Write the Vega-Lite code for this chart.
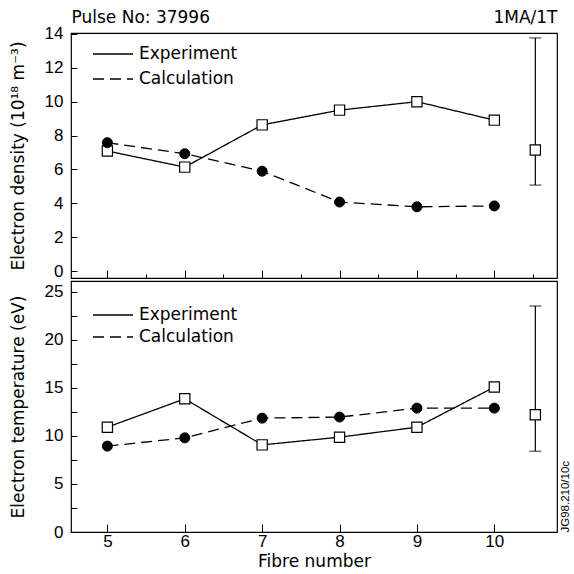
{
  "$schema": "https://vega.github.io/schema/vega-lite/v6.json",
  "padding": {"left": 8, "top": 7, "right": 2, "bottom": 2},
  "background": "white",
  "spacing": 0,
  "resolve": {
    "scale": {"x": "independent", "y": "independent", "strokeDash": "independent"},
    "axis": {"x": "independent", "y": "independent"},
    "legend": {"strokeDash": "independent"}
  },
  "config": {
    "font": "DejaVu Sans",
    "view": {"stroke": "black", "strokeWidth": 1.2},
    "axis": {
      "labelFont": "Liberation Sans", "labelFontSize": 17, "labelColor": "black",
      "titleFont": "DejaVu Sans", "titleFontSize": 17, "titleFontWeight": "normal", "titleColor": "black",
      "domainColor": "black", "tickColor": "black", "tickWidth": 1, "grid": false
    },
    "legend": {
      "labelFont": "DejaVu Sans", "labelFontSize": 17, "labelColor": "black"
    }
  },
  "datasets": {
    "density": [
      {"fibre": 5, "value": 7.09, "series": "Experiment"},
      {"fibre": 6, "value": 6.14, "series": "Experiment"},
      {"fibre": 7, "value": 8.63, "series": "Experiment"},
      {"fibre": 8, "value": 9.5, "series": "Experiment"},
      {"fibre": 9, "value": 10.0, "series": "Experiment"},
      {"fibre": 10, "value": 8.91, "series": "Experiment"},
      {"fibre": 5, "value": 7.58, "series": "Calculation"},
      {"fibre": 6, "value": 6.93, "series": "Calculation"},
      {"fibre": 7, "value": 5.9, "series": "Calculation"},
      {"fibre": 8, "value": 4.08, "series": "Calculation"},
      {"fibre": 9, "value": 3.8, "series": "Calculation"},
      {"fibre": 10, "value": 3.85, "series": "Calculation"}
    ],
    "temperature": [
      {"fibre": 5, "value": 10.9, "series": "Experiment"},
      {"fibre": 6, "value": 13.85, "series": "Experiment"},
      {"fibre": 7, "value": 9.06, "series": "Experiment"},
      {"fibre": 8, "value": 9.86, "series": "Experiment"},
      {"fibre": 9, "value": 10.9, "series": "Experiment"},
      {"fibre": 10, "value": 15.07, "series": "Experiment"},
      {"fibre": 5, "value": 8.93, "series": "Calculation"},
      {"fibre": 6, "value": 9.79, "series": "Calculation"},
      {"fibre": 7, "value": 11.84, "series": "Calculation"},
      {"fibre": 8, "value": 11.95, "series": "Calculation"},
      {"fibre": 9, "value": 12.88, "series": "Calculation"},
      {"fibre": 10, "value": 12.88, "series": "Calculation"}
    ],
    "density_err": [
      {"fibre": 10.53, "value": 7.15, "lo": 5.08, "hi": 13.76}
    ],
    "temperature_err": [
      {"fibre": 10.53, "value": 12.2, "lo": 8.4, "hi": 23.5}
    ]
  },
  "vconcat": [
    {
      "width": 486,
      "height": 245,
      "resolve": {"axis": {"x": "independent", "y": "independent"}},
      "layer": [
        {
          "data": {"name": "density"},
          "mark": {"type": "line", "color": "black", "strokeWidth": 1.3},
          "encoding": {
            "x": {
              "field": "fibre", "type": "quantitative",
              "scale": {"domain": [4.53, 10.81], "nice": false, "zero": false},
              "axis": {
                "orient": "bottom", "title": null, "labels": false, "domain": false,
                "values": [5, 5.5, 6, 6.5, 7, 7.5, 8, 8.5, 9, 9.5, 10, 10.5],
                "tickSize": {"condition": {"test": "datum.value % 1 !== 0", "value": -4}, "value": -8}
              }
            },
            "y": {
              "field": "value", "type": "quantitative",
              "scale": {"domain": [-0.4, 14.05], "nice": false, "zero": false},
              "axis": {
                "orient": "left",
                "title": "Electron density (10¹⁸ m⁻³)",
                "values": [0, 2, 4, 6, 8, 10, 12, 14],
                "tickSize": -6, "labelPadding": 14, "titlePadding": 17, "domain": false
              }
            },
            "strokeDash": {
              "field": "series", "type": "nominal",
              "scale": {"domain": ["Experiment", "Calculation"], "range": [[1, 0], [11, 6]]},
              "legend": {
                "title": null, "orient": "none", "legendX": 31, "legendY": 10,
                "padding": 0, "symbolSize": 400, "symbolType": "M-2,0H2", "labelOffset": 15, "rowPadding": 6,
                "symbolStrokeWidth": 1.3, "symbolStrokeColor": "black"
              }
            }
          }
        },
        {
          "data": {"name": "density"},
          "transform": [{"filter": "datum.series === 'Experiment'"}],
          "mark": {"type": "point", "shape": "square", "filled": true, "fill": "white", "stroke": "black", "strokeWidth": 1.2, "size": 105, "opacity": 1},
          "encoding": {
            "x": {"field": "fibre", "type": "quantitative", "axis": null},
            "y": {"field": "value", "type": "quantitative", "axis": null}
          }
        },
        {
          "data": {"name": "density"},
          "transform": [{"filter": "datum.series === 'Calculation'"}],
          "mark": {"type": "point", "shape": "circle", "filled": true, "fill": "black", "stroke": "black", "strokeWidth": 1, "size": 100, "opacity": 1},
          "encoding": {
            "x": {"field": "fibre", "type": "quantitative", "axis": null},
            "y": {"field": "value", "type": "quantitative", "axis": null}
          }
        },
        {
          "data": {"name": "density_err"},
          "mark": {"type": "errorbar", "ticks": {"size": 12, "color": "black", "thickness": 1.2}, "rule": {"color": "black", "strokeWidth": 1.2}},
          "encoding": {
            "x": {"field": "fibre", "type": "quantitative", "axis": null},
            "y": {"field": "lo", "type": "quantitative", "axis": null},
            "y2": {"field": "hi"}
          }
        },
        {
          "data": {"name": "density_err"},
          "mark": {"type": "point", "shape": "square", "filled": true, "fill": "white", "stroke": "black", "strokeWidth": 1.2, "size": 105, "opacity": 1},
          "encoding": {
            "x": {
              "field": "fibre", "type": "quantitative",
              "axis": {
                "orient": "top", "title": null, "ticks": false, "domain": false,
                "values": [4.53, 10.81],
                "labelExpr": "datum.value < 6 ? 'Pulse No: 37996' : '1MA/1T'",
                "labelAlign": {"condition": {"test": "datum.value < 6", "value": "left"}, "value": "right"},
                "labelFont": "DejaVu Sans", "labelFontSize": 17, "labelPadding": 7, "labelOverlap": false
              }
            },
            "y": {"field": "value", "type": "quantitative", "axis": null}
          }
        }
      ]
    },
    {
      "width": 486,
      "height": 251,
      "resolve": {"axis": {"x": "independent", "y": "independent"}},
      "layer": [
        {
          "data": {"name": "temperature"},
          "mark": {"type": "line", "color": "black", "strokeWidth": 1.3},
          "encoding": {
            "x": {
              "field": "fibre", "type": "quantitative",
              "scale": {"domain": [4.53, 10.81], "nice": false, "zero": false},
              "axis": {
                "orient": "bottom", "title": "Fibre number", "domain": false, "format": "d",
                "values": [5, 5.5, 6, 6.5, 7, 7.5, 8, 8.5, 9, 9.5, 10, 10.5],
                "labelExpr": "datum.value % 1 === 0 ? datum.label : ''",
                "tickSize": {"condition": {"test": "datum.value % 1 !== 0", "value": -4}, "value": -8},
                "labelPadding": {"condition": {"test": "datum.value % 1 !== 0", "value": 5}, "value": 9},
                "titlePadding": 4
              }
            },
            "y": {
              "field": "value", "type": "quantitative",
              "scale": {"domain": [0, 26.1], "nice": false, "zero": false},
              "axis": {
                "orient": "left",
                "title": "Electron temperature (eV)",
                "values": [0, 2.5, 5, 7.5, 10, 12.5, 15, 17.5, 20, 22.5, 25],
                "labelExpr": "datum.value % 5 === 0 ? datum.label : ''",
                "tickSize": -6, "labelPadding": 14, "titlePadding": 17, "domain": false
              }
            },
            "strokeDash": {
              "field": "series", "type": "nominal",
              "scale": {"domain": ["Experiment", "Calculation"], "range": [[1, 0], [11, 6]]},
              "legend": {
                "title": null, "orient": "none", "legendX": 31, "legendY": 23,
                "padding": 0, "symbolSize": 400, "symbolType": "M-2,0H2", "labelOffset": 15, "rowPadding": 3,
                "symbolStrokeWidth": 1.3, "symbolStrokeColor": "black"
              }
            }
          }
        },
        {
          "data": {"name": "temperature"},
          "transform": [{"filter": "datum.series === 'Experiment'"}],
          "mark": {"type": "point", "shape": "square", "filled": true, "fill": "white", "stroke": "black", "strokeWidth": 1.2, "size": 105, "opacity": 1},
          "encoding": {
            "x": {"field": "fibre", "type": "quantitative", "axis": null},
            "y": {"field": "value", "type": "quantitative", "axis": null}
          }
        },
        {
          "data": {"name": "temperature"},
          "transform": [{"filter": "datum.series === 'Calculation'"}],
          "mark": {"type": "point", "shape": "circle", "filled": true, "fill": "black", "stroke": "black", "strokeWidth": 1, "size": 100, "opacity": 1},
          "encoding": {
            "x": {"field": "fibre", "type": "quantitative", "axis": null},
            "y": {"field": "value", "type": "quantitative", "axis": null}
          }
        },
        {
          "data": {"name": "temperature_err"},
          "mark": {"type": "errorbar", "ticks": {"size": 12, "color": "black", "thickness": 1.2}, "rule": {"color": "black", "strokeWidth": 1.2}},
          "encoding": {
            "x": {"field": "fibre", "type": "quantitative", "axis": null},
            "y": {"field": "lo", "type": "quantitative", "axis": null},
            "y2": {"field": "hi"}
          }
        },
        {
          "data": {"name": "temperature_err"},
          "mark": {"type": "point", "shape": "square", "filled": true, "fill": "white", "stroke": "black", "strokeWidth": 1.2, "size": 105, "opacity": 1},
          "encoding": {
            "x": {"field": "fibre", "type": "quantitative", "axis": null},
            "y": {
              "field": "value", "type": "quantitative",
              "axis": {
                "orient": "right", "title": "JG98.210/10c", "labels": false, "ticks": false, "domain": false,
                "titleFont": "Liberation Sans",
                "titleAngle": 270, "titleAnchor": "start", "titleFontSize": 11.5, "titlePadding": 2, "titleBaseline": "top"
              }
            }
          }
        }
      ]
    }
  ]
}
